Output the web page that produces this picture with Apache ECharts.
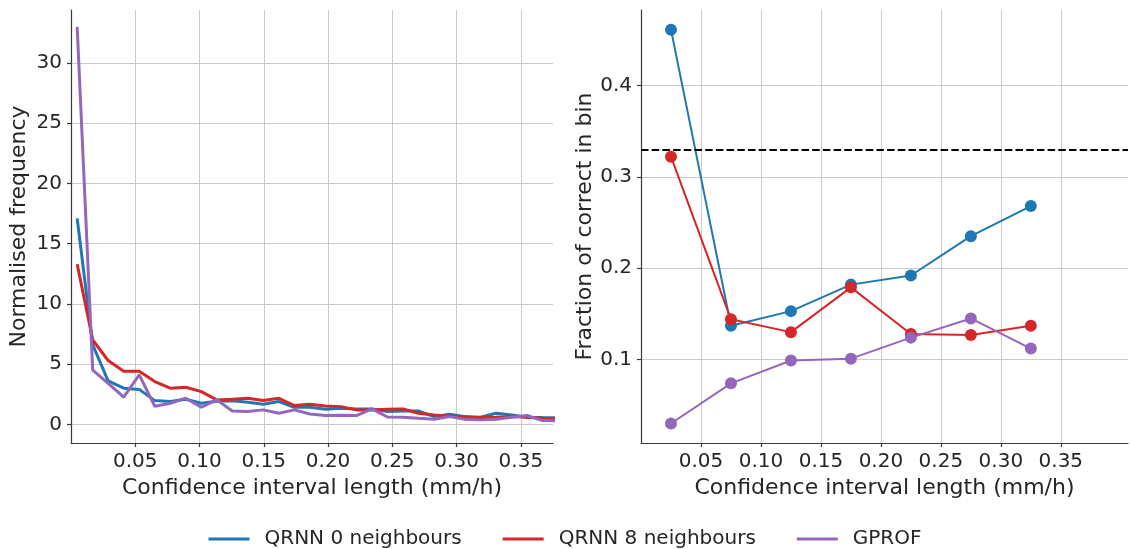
<!DOCTYPE html>
<html>
<head>
<meta charset="utf-8">
<script src="https://cdn.jsdelivr.net/npm/echarts@6/dist/echarts.min.js"></script>
<style>
  html, body { margin: 0; padding: 0; background: #fff; }
  #chart { width: 1130px; height: 549px; }
</style>
</head>
<body>
<div id="chart"></div>
<script>
// ---- Left panel: normalised frequency of confidence interval lengths ----
const freqX = [0.0048, 0.0169, 0.0289, 0.0410, 0.0531, 0.0652, 0.0772, 0.0893, 0.1014, 0.1134,
               0.1255, 0.1376, 0.1496, 0.1617, 0.1738, 0.1859, 0.1979, 0.2100, 0.2221, 0.2341,
               0.2462, 0.2583, 0.2703, 0.2824, 0.2945, 0.3066, 0.3186, 0.3307, 0.3428, 0.3548,
               0.3669, 0.3790];
const freqQrnn0 = [17.1, 6.6, 3.6, 3.0, 2.9, 1.97, 1.9, 2.08, 1.75, 1.92,
                   1.95, 1.83, 1.67, 1.89, 1.42, 1.42, 1.25, 1.34, 1.28, 1.28,
                   1.06, 1.11, 1.11, 0.64, 0.84, 0.64, 0.59, 0.92, 0.78, 0.59,
                   0.56, 0.55];
const freqQrnn8 = [13.3, 7.0, 5.3, 4.4, 4.4, 3.55, 3.0, 3.08, 2.72, 2.03,
                   2.08, 2.16, 1.97, 2.16, 1.56, 1.67, 1.53, 1.47, 1.2, 1.2,
                   1.25, 1.28, 0.92, 0.78, 0.70, 0.59, 0.56, 0.59, 0.64, 0.59,
                   0.5, 0.45];
const freqGprof = [33.0, 4.5, 3.4, 2.25, 4.1, 1.5, 1.75, 2.17, 1.42, 2.03,
                   1.1, 1.06, 1.2, 0.92, 1.2, 0.86, 0.73, 0.75, 0.73, 1.28,
                   0.61, 0.59, 0.5, 0.42, 0.64, 0.42, 0.37, 0.42, 0.59, 0.73,
                   0.31, 0.3];

// ---- Right panel: fraction of correct predictions per bin ----
const binX = [0.025, 0.075, 0.125, 0.175, 0.225, 0.275, 0.325];
const fracQrnn0 = [0.461, 0.137, 0.153, 0.182, 0.192, 0.235, 0.268];
const fracQrnn8 = [0.322, 0.144, 0.130, 0.179, 0.128, 0.127, 0.137];
const fracGprof = [0.030, 0.074, 0.099, 0.101, 0.124, 0.145, 0.112];
const expectedFraction = 0.33;

// ---- Tick labels ----
const xTicks = [0.05, 0.10, 0.15, 0.20, 0.25, 0.30, 0.35];
const freqTicks = [0, 5, 10, 15, 20, 25, 30];
const fracTicks = [0.1, 0.2, 0.3, 0.4];

const names = ['QRNN 0 neighbours', 'QRNN 8 neighbours', 'GPROF'];
const colors = ['#1f77b4', '#d62728', '#9467bd'];

const FONT = 'DejaVu Sans';
const TEXT = '#262626';
const GRID = '#cbcbcb';
const SPINE = '#3a3a3a';

function zip(xs, ys) { return xs.map((x, i) => [x, ys[i]]); }

function valueAxis(gridIndex, min, max, ticks, digits, extra) {
  return Object.assign({
    type: 'value', gridIndex, min, max,
    axisLine: { show: true, onZero: false, lineStyle: { color: SPINE, width: 1.2 } },
    axisTick: { show: true, customValues: ticks, length: 4, lineStyle: { color: SPINE, width: 1.2 } },
    axisLabel: {
      customValues: ticks, fontFamily: FONT, fontSize: 20, color: TEXT, margin: 9,
      formatter: v => Number(v).toFixed(digits)
    },
    splitLine: { show: true, lineStyle: { color: GRID, width: 1 } },
    nameLocation: 'middle',
    nameTextStyle: { fontFamily: FONT, fontSize: 22, color: TEXT }
  }, extra);
}

const freqSets = [freqQrnn0, freqQrnn8, freqGprof];
const fracSets = [fracQrnn0, fracQrnn8, fracGprof];

const series = [];
freqSets.forEach((ys, i) => {
  series.push({
    name: names[i], type: 'line', xAxisIndex: 0, yAxisIndex: 0,
    data: zip(freqX, ys), showSymbol: false, symbol: 'none', clip: true,
    lineStyle: { color: colors[i], width: 3 }, itemStyle: { color: colors[i] }
  });
});
fracSets.forEach((ys, i) => {
  series.push({
    name: names[i], type: 'line', xAxisIndex: 1, yAxisIndex: 1,
    data: zip(binX, ys), symbol: 'circle', symbolSize: 12,
    lineStyle: { color: colors[i], width: 2 }, itemStyle: { color: colors[i] }
  });
});
// dashed reference level across the right panel
series.push({
  name: 'reference', type: 'line', xAxisIndex: 1, yAxisIndex: 1, data: [],
  markLine: {
    silent: true, symbol: 'none', animation: false,
    label: { show: false },
    lineStyle: { color: '#000', width: 2, type: [7.5, 3.2] },
    data: [{ yAxis: expectedFraction }]
  }
});

const option = {
  animation: false,
  backgroundColor: '#fff',
  grid: [
    { left: 71, top: 10, width: 482, height: 433 },
    { left: 641, top: 10, width: 487, height: 433 }
  ],
  xAxis: [
    valueAxis(0, 0, 0.375, xTicks, 2, { name: 'Confidence interval length (mm/h)', nameGap: 30 }),
    valueAxis(1, 0, 0.406, xTicks, 2, { name: 'Confidence interval length (mm/h)', nameGap: 30 })
  ],
  yAxis: [
    valueAxis(0, -1.55, 34.4, freqTicks, 0, { name: 'Normalised frequency', nameGap: 41 }),
    valueAxis(1, 0.0087, 0.4825, fracTicks, 1, { name: 'Fraction of correct in bin', nameGap: 44 })
  ],
  legend: {
    data: names.map(n => ({ name: n, icon: 'rect' })),
    left: 'center', top: 524,
    itemWidth: 41, itemHeight: 3, itemGap: 41,
    textStyle: { fontFamily: FONT, fontSize: 20, color: TEXT, padding: [0, 0, 0, 10] }
  },
  series
};

const chart = echarts.init(document.getElementById('chart'), null, { renderer: 'canvas' });
chart.setOption(option);
</script>
</body>
</html>
